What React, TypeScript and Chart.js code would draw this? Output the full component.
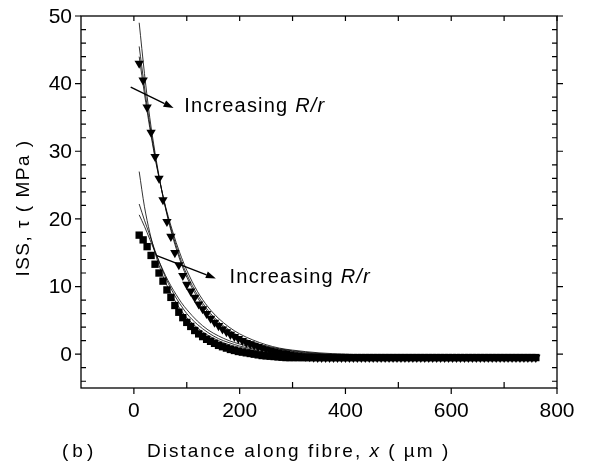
import { useEffect, useRef } from "react";
import { Chart, registerables } from "chart.js";

Chart.register(...registerables);

// ---- data (µm, MPa) ----
const distance = [
  10, 17.5, 25, 32.5, 40, 47.5, 55, 62.5, 70, 77.5, 85, 92.5, 100, 107.5, 115, 122.5, 130, 137.5, 145, 152.5,
  160, 167.5, 175, 182.5, 190, 197.5, 205, 212.5, 220, 227.5, 235, 242.5, 250, 257.5, 265, 272.5, 280, 287.5, 295, 302.5,
  310, 317.5, 325, 332.5, 340, 347.5, 355, 362.5, 370, 377.5, 385, 392.5, 400, 407.5, 415, 422.5, 430, 437.5, 445, 452.5,
  460, 467.5, 475, 482.5, 490, 497.5, 505, 512.5, 520, 527.5, 535, 542.5, 550, 557.5, 565, 572.5, 580, 587.5, 595, 602.5,
  610, 617.5, 625, 632.5, 640, 647.5, 655, 662.5, 670, 677.5, 685, 692.5, 700, 707.5, 715, 722.5, 730, 737.5, 745, 752.5,
  760,
];

const triangleISS = [
  43.0, 40.5, 36.5, 32.8, 29.2, 26.0, 22.8, 19.6, 17.4, 15.0, 13.2, 11.6, 10.3, 9.3, 8.4, 7.4, 6.7, 6.0, 5.3, 4.7,
  4.2, 3.7, 3.3, 2.9, 2.6, 2.3, 2.0, 1.7, 1.5, 1.3, 1.1, 0.9, 0.7, 0.55, 0.4, 0.3, 0.2, 0.1, 0.0, -0.1,
  -0.2, -0.3, -0.35, -0.4, -0.45, -0.5, -0.5, -0.5, -0.5, -0.5, -0.5, -0.5, -0.5, -0.5, -0.5, -0.5, -0.5, -0.5, -0.5, -0.5,
  -0.5, -0.5, -0.5, -0.5, -0.5, -0.5, -0.5, -0.5, -0.5, -0.5, -0.5, -0.5, -0.5, -0.5, -0.5, -0.5, -0.5, -0.5, -0.5, -0.5,
  -0.5, -0.5, -0.5, -0.5, -0.5, -0.5, -0.5, -0.5, -0.5, -0.5, -0.5, -0.5, -0.5, -0.5, -0.5, -0.5, -0.5, -0.5, -0.5, -0.5,
  -0.5,
];

const squareISS = [
  17.6, 16.9, 15.9, 14.6, 13.3, 12.0, 10.8, 9.5, 8.4, 7.2, 6.2, 5.4, 4.7, 4.1, 3.5, 3.0, 2.6, 2.2, 1.9, 1.6,
  1.3, 1.1, 0.9, 0.7, 0.55, 0.4, 0.3, 0.2, 0.1, 0.0, -0.1, -0.2, -0.25, -0.3, -0.35, -0.4, -0.45, -0.5, -0.5, -0.5,
  -0.5, -0.5, -0.5, -0.5, -0.5, -0.5, -0.5, -0.5, -0.5, -0.5, -0.5, -0.5, -0.5, -0.5, -0.5, -0.5, -0.5, -0.5, -0.5, -0.5,
  -0.5, -0.5, -0.5, -0.5, -0.5, -0.5, -0.5, -0.5, -0.5, -0.5, -0.5, -0.5, -0.5, -0.5, -0.5, -0.5, -0.5, -0.5, -0.5, -0.5,
  -0.5, -0.5, -0.5, -0.5, -0.5, -0.5, -0.5, -0.5, -0.5, -0.5, -0.5, -0.5, -0.5, -0.5, -0.5, -0.5, -0.5, -0.5, -0.5, -0.5,
  -0.5,
];

// model curves for increasing R/r
const lineDistance = [10, 20, 30, 40, 50, 60, 70, 80, 90, 100, 120, 140, 160, 180, 200, 225, 250, 275, 300, 350, 400, 500, 600, 700, 760];
const triFitA = [49.0, 41.5, 35.0, 29.8, 25.3, 21.5, 18.3, 15.6, 13.3, 11.4, 8.4, 6.2, 4.6, 3.4, 2.5, 1.7, 1.1, 0.7, 0.4, 0.0, -0.2, -0.3, -0.3, -0.3, -0.3];
const triFitB = [45.5, 39.5, 34.0, 29.3, 25.2, 21.6, 18.6, 16.0, 13.7, 11.8, 8.8, 6.5, 4.8, 3.6, 2.6, 1.8, 1.2, 0.8, 0.5, 0.1, -0.1, -0.3, -0.3, -0.3, -0.3];
const triFitC = [44.0, 38.5, 33.5, 29.0, 25.2, 21.8, 19.0, 16.5, 14.3, 12.4, 9.3, 7.0, 5.3, 4.0, 3.0, 2.1, 1.4, 0.9, 0.6, 0.2, 0.0, -0.3, -0.3, -0.3, -0.3];
const sqFitA = [27.0, 21.8, 18.0, 15.0, 12.6, 10.6, 9.0, 7.6, 6.4, 5.4, 3.9, 2.8, 2.0, 1.4, 1.0, 0.6, 0.3, 0.1, 0.0, -0.2, -0.3, -0.3, -0.3, -0.3, -0.3];
const sqFitB = [22.2, 19.8, 17.6, 15.3, 13.2, 11.3, 9.7, 8.3, 7.1, 6.0, 4.4, 3.2, 2.3, 1.7, 1.2, 0.8, 0.5, 0.3, 0.1, -0.1, -0.3, -0.3, -0.3, -0.3, -0.3];
const sqFitC = [20.6, 18.9, 17.0, 15.1, 13.3, 11.6, 10.1, 8.8, 7.6, 6.6, 4.9, 3.6, 2.7, 2.0, 1.5, 1.0, 0.6, 0.4, 0.2, 0.0, -0.2, -0.3, -0.3, -0.3, -0.3];

// axes
const xTickLabels = [0, 200, 400, 600, 800];
const xMinorTicks = [100, 300, 500, 700];
const yTickLabels = [0, 10, 20, 30, 40, 50];
const yMinorTicks = [-4, -2, 2, 4, 6, 8, 12, 14, 16, 18, 22, 24, 26, 28, 32, 34, 36, 38, 42, 44, 46, 48];

// annotations: [x0, y0, x1, y1] arrow in data units, text anchor [x, y]
const arrowUpper = [-6, 39.5, 75, 36.4];
const textUpper = [95, 36.6];
const arrowLower = [42, 14.6, 155, 11.2];
const textLower = [181, 11.4];

const FONT = "'Liberation Sans', Arial, Helvetica, sans-serif";

type Run = { t: string; italic?: boolean };

function runsWidth(ctx: CanvasRenderingContext2D, runs: Run[], size: number) {
  let w = 0;
  for (const r of runs) {
    ctx.font = `${r.italic ? "italic " : ""}${size}px ${FONT}`;
    w += ctx.measureText(r.t).width;
  }
  return w;
}

function drawRuns(ctx: CanvasRenderingContext2D, runs: Run[], x: number, y: number, size: number, spacing: number, align: "left" | "center" = "left") {
  (ctx as any).letterSpacing = `${spacing}px`;
  ctx.textAlign = "left";
  let cx = x;
  if (align === "center") cx = x - runsWidth(ctx, runs, size) / 2;
  for (const r of runs) {
    ctx.font = `${r.italic ? "italic " : ""}${size}px ${FONT}`;
    ctx.fillText(r.t, cx, y);
    cx += ctx.measureText(r.t).width;
  }
  (ctx as any).letterSpacing = "0px";
}

function arrow(ctx: CanvasRenderingContext2D, x0: number, y0: number, x1: number, y1: number) {
  const ang = Math.atan2(y1 - y0, x1 - x0);
  const L = 10, W = 3.5;
  const bx = x1 - L * Math.cos(ang), by = y1 - L * Math.sin(ang);
  ctx.beginPath();
  ctx.moveTo(x0, y0);
  ctx.lineTo(bx, by);
  ctx.lineWidth = 1.4;
  ctx.stroke();
  ctx.beginPath();
  ctx.moveTo(x1, y1);
  ctx.lineTo(bx + W * Math.sin(ang), by - W * Math.cos(ang));
  ctx.lineTo(bx - W * Math.sin(ang), by + W * Math.cos(ang));
  ctx.closePath();
  ctx.fill();
}

const overlay = {
  id: "overlay",
  afterDraw(chart: any) {
    const { ctx, chartArea: a, scales } = chart;
    const xs = scales.x, ys = scales.y;
    ctx.save();
    ctx.strokeStyle = "#000";
    ctx.fillStyle = "#000";
    ctx.lineWidth = 1.3;
    ctx.strokeRect(a.left, a.top, a.right - a.left, a.bottom - a.top);

    ctx.lineWidth = 1.2;
    ctx.beginPath();
    for (const v of xTickLabels) {
      const px = xs.getPixelForValue(v);
      ctx.moveTo(px, a.bottom); ctx.lineTo(px, a.bottom + 6);
      ctx.moveTo(px, a.top); ctx.lineTo(px, a.top + 5);
    }
    for (const v of xMinorTicks) {
      const px = xs.getPixelForValue(v);
      ctx.moveTo(px, a.bottom); ctx.lineTo(px, a.bottom - 6);
      ctx.moveTo(px, a.top); ctx.lineTo(px, a.top + 5);
    }
    for (const v of yTickLabels) {
      const py = ys.getPixelForValue(v);
      ctx.moveTo(a.left - 6, py); ctx.lineTo(a.left, py);
      ctx.moveTo(a.right, py); ctx.lineTo(a.right + 6, py);
    }
    for (const v of yMinorTicks) {
      const py = ys.getPixelForValue(v);
      ctx.moveTo(a.left, py); ctx.lineTo(a.left + 5, py);
      ctx.moveTo(a.right, py); ctx.lineTo(a.right - 5, py);
    }
    ctx.stroke();

    // tick labels
    ctx.textBaseline = "middle";
    ctx.font = `21px ${FONT}`;
    ctx.textAlign = "right";
    for (const v of yTickLabels) {
      ctx.fillText(String(v), a.left - 9, ys.getPixelForValue(v) + 1);
    }
    ctx.textAlign = "center";
    ctx.textBaseline = "alphabetic";
    for (const v of xTickLabels) {
      ctx.fillText(String(v), xs.getPixelForValue(v), a.bottom + 29);
    }

    // axis titles
    drawRuns(ctx, [{ t: "Distance along fibre, " }, { t: "x", italic: true }, { t: " ( µm )" }], 147, 457, 19, 2.0);
    drawRuns(ctx, [{ t: "(b)" }], 62, 457, 19, 4);
    ctx.save();
    ctx.translate(29, 208);
    ctx.rotate(-Math.PI / 2);
    drawRuns(ctx, [{ t: "ISS, τ ( MPa )" }], 0, 0, 19, 1.5, "center");
    ctx.restore();

    // annotations
    const ann = (ar: number[], tx: number[]) => {
      arrow(ctx, xs.getPixelForValue(ar[0]), ys.getPixelForValue(ar[1]), xs.getPixelForValue(ar[2]), ys.getPixelForValue(ar[3]));
      ctx.textBaseline = "middle";
      drawRuns(ctx, [{ t: "Increasing " }, { t: "R/r", italic: true }], xs.getPixelForValue(tx[0]), ys.getPixelForValue(tx[1]), 20, 1.2);
    };
    ann(arrowUpper, textUpper);
    ann(arrowLower, textLower);
    ctx.restore();
  },
};

const pts = (xs: number[], ys: number[]) => xs.map((x, i) => ({ x, y: ys[i] }));

export default function App() {
  const ref = useRef<HTMLCanvasElement | null>(null);
  useEffect(() => {
    if (!ref.current) return;
    const fit = (data: number[]) => ({
      type: "line" as const,
      data: pts(lineDistance, data),
      borderColor: "#000",
      borderWidth: 0.8,
      pointRadius: 0,
      showLine: true,
      fill: false,
      cubicInterpolationMode: "monotone" as const,
      order: 2,
    });
    const chart = new Chart(ref.current, {
      type: "scatter",
      data: {
        datasets: [
          fit(triFitA), fit(triFitB), fit(triFitC), fit(sqFitA), fit(sqFitB), fit(sqFitC),
          {
            label: "triangles",
            data: pts(distance, triangleISS),
            pointStyle: "triangle",
            rotation: 180,
            pointRadius: 5.4,
            backgroundColor: "#000",
            borderColor: "#000",
            borderWidth: 0,
            order: 1,
          } as any,
          {
            label: "squares",
            data: pts(distance, squareISS),
            pointStyle: "rect",
            pointRadius: 5.2,
            backgroundColor: "#000",
            borderColor: "#000",
            borderWidth: 0,
            order: 1,
          } as any,
        ],
      },
      options: {
        animation: false,
        responsive: false,
        devicePixelRatio: 1,
        layout: { padding: { left: 81, right: 58, top: 16, bottom: 77 } },
        scales: {
          x: { type: "linear", min: -100, max: 800, display: false },
          y: { type: "linear", min: -5, max: 50, display: false },
        },
        plugins: { legend: { display: false }, tooltip: { enabled: false } },
      },
      plugins: [overlay],
    });
    return () => chart.destroy();
  }, []);
  return (
    <div style={{ position: "absolute", left: 0, top: 0, width: 615, height: 465, background: "#fff" }}>
      <canvas ref={ref} width={615} height={465} style={{ display: "block" }} />
    </div>
  );
}
